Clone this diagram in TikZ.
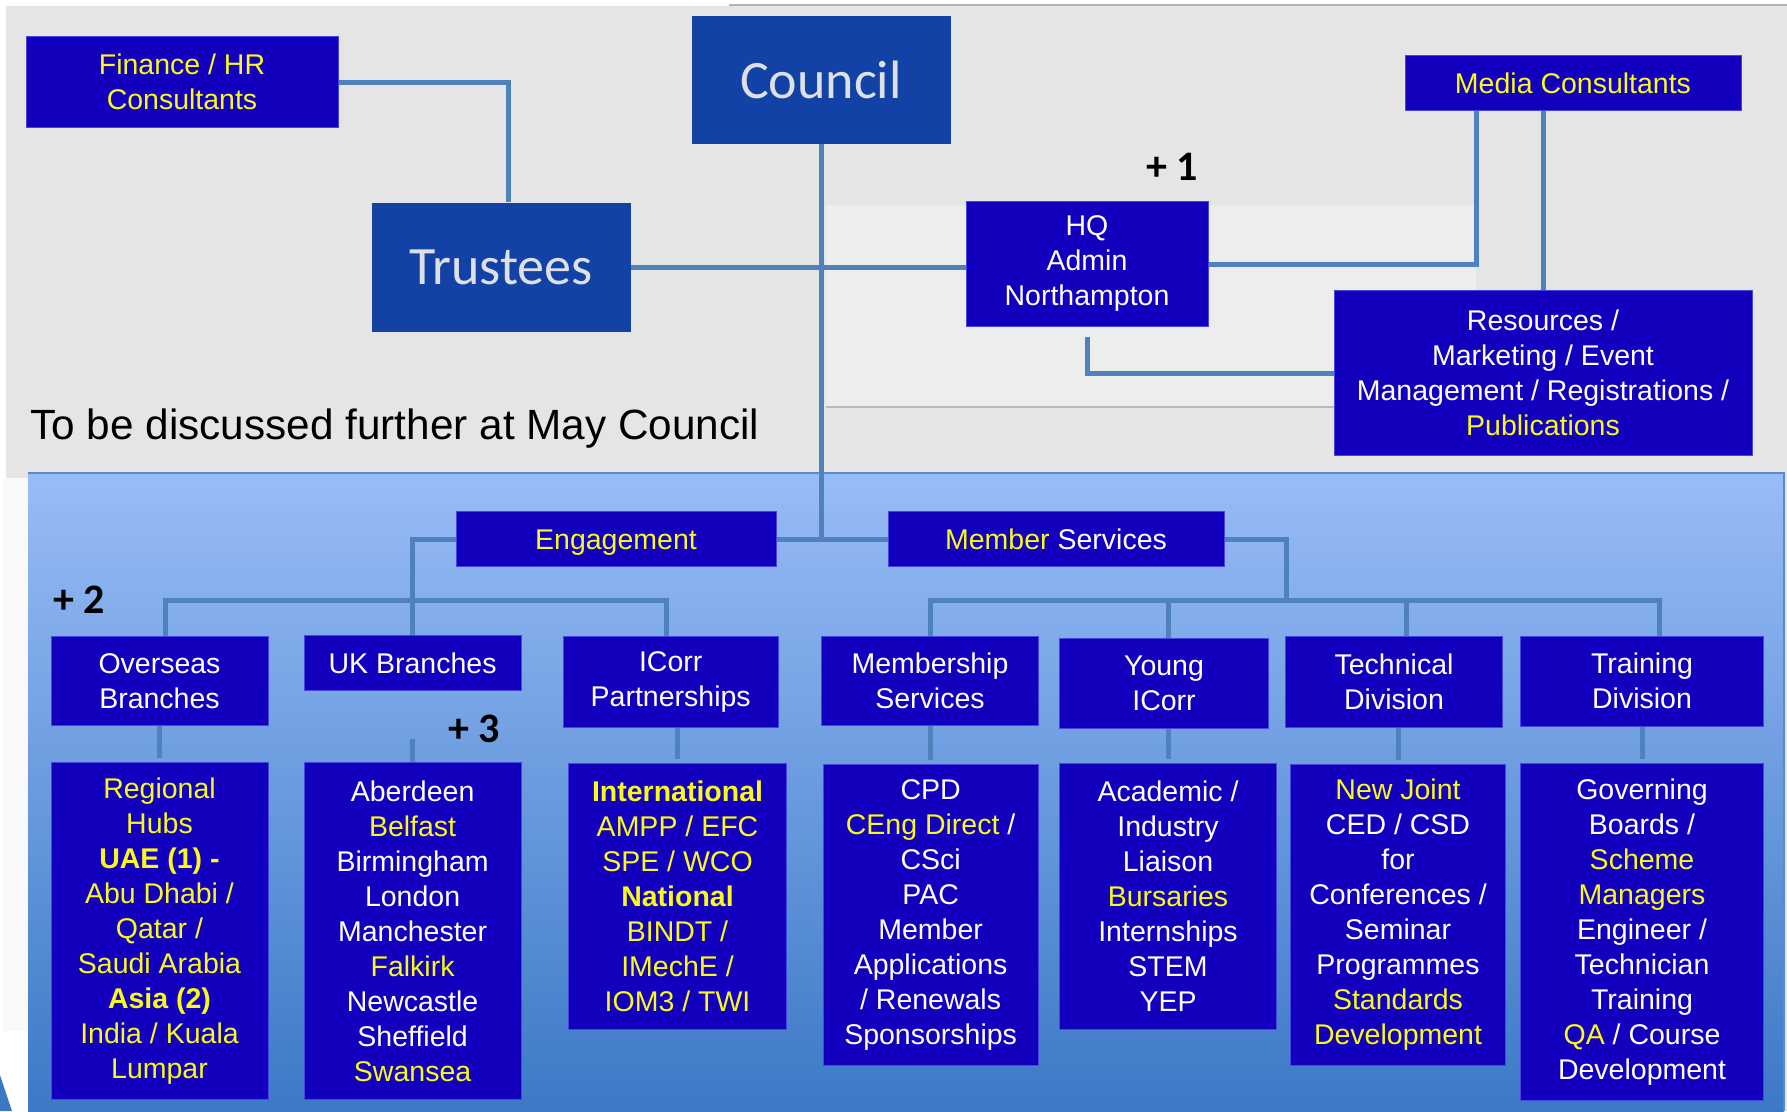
\documentclass[tikz,border=0pt]{standalone}
\usepackage{fontspec}
\setmainfont{Liberation Sans}
\newfontfamily\calfont{Carlito}
\definecolor{boxblue}{RGB}{18,0,190}
\definecolor{boxedge}{RGB}{70,70,225}
\definecolor{boardblue}{RGB}{18,66,166}
\definecolor{boardtext}{RGB}{222,224,232}
\definecolor{hilite}{RGB}{250,250,25}
\definecolor{linkblue}{RGB}{79,129,189}
\definecolor{panelgrey}{RGB}{229,229,229}
\definecolor{bandgrey}{RGB}{237,237,237}
\definecolor{paneltop}{RGB}{152,188,247}
\definecolor{panelbottom}{RGB}{60,121,197}
\definecolor{panelline}{RGB}{90,138,205}
\newcommand{\yl}[1]{\textcolor{hilite}{#1}}
\begin{document}
\begin{tikzpicture}[x=1pt, y=-1pt,
  unit/.style={fill=boxblue, draw=boxedge, line width=1pt, text=white, align=center,
    inner sep=0pt, font=\fontsize{28.5}{35}\selectfont},
  board/.style={fill=boardblue, text=boardtext, inner sep=0pt,
    font=\calfont\fontsize{54}{60}\selectfont},
  link/.style={draw=linkblue, line width=5pt},
  plus/.style={font=\calfont\bfseries\fontsize{42}{48}\selectfont}]
		% Hintergrund
		\useasboundingbox (0,0) rectangle (1787,1111);
		\fill[white] (0,0) rectangle (1787,1111);
		\fill[panelgrey] (6,6) rectangle (1787,1111);
		\fill[white] (0,0) rectangle (1787,5);
		\draw[gray!60, line width=2pt] (729,5) -- (1787,5);
		\fill[bandgrey] (826,205) rectangle (1476,407);
		\draw[gray!55, line width=2pt] (826,407) -- (1476,407);
		\fill[white!95!gray] (3,478) rectangle (28,1031);
		\fill[white] (0,1031) rectangle (28,1111);
		\fill[panelbottom] (0,1075) -- (12,1111) -- (0,1111) -- cycle;
		\shade[top color=paneltop, bottom color=panelbottom] (28,473) rectangle (1784,1111);
		\draw[panelline, line width=2pt] (28,473) -- (1784,473) -- (1784,1111);
		% Obere Ebene
		\node[unit, text=hilite, minimum width=312pt, minimum height=91pt] (fin) at (182,82) {Finance / HR\\Consultants};
		\node[board, minimum width=259pt, minimum height=128pt] (council) at (821,80) {Council};
		\node[board, minimum width=259pt, minimum height=129pt] (trust) at (501,267) {Trustees};
		\node[unit, minimum width=242pt, minimum height=125pt] (hq) at (1087,264) {HQ\\Admin\\Northampton};
		\node[unit, text=hilite, minimum width=336pt, minimum height=55pt] (media) at (1573,83) {Media Consultants};
		\node[unit, minimum width=418pt, minimum height=165pt] (res) at (1543,373) {Resources /\\Marketing / Event\\Management / Registrations /\\\yl{Publications}};
		\node[plus] (plusa) at (1172,167) {+ 1};
		\node[anchor=west, font=\fontsize{42.3}{48}\selectfont] (note) at (27,429) {To be discussed further at May Council};
		% Untere Ebene
		\node[unit, text=hilite, text height=20.5pt, text depth=0pt, minimum width=320pt, minimum height=55pt] (eng) at (616,539) {Engagement};
		\node[unit, minimum width=336pt, minimum height=55pt] (ms) at (1056,539) {\yl{Member} Services};
		\node[plus] (plusb) at (79,600) {+ 2};
		\node[plus] (plusc) at (474,729) {+ 3};
		% Bereiche
		\node[unit, minimum width=217pt, minimum height=89pt] (ovs) at (159.5,681) {Overseas\\Branches};
		\node[unit, minimum width=217pt, minimum height=55pt] (uk) at (412.6,663) {UK Branches};
		\node[unit, minimum width=215pt, minimum height=91pt] (icorr) at (670.7,682) {ICorr\\Partnerships};
		\node[unit, minimum width=217pt, minimum height=89pt] (mship) at (930,681) {Membership\\Services};
		\node[unit, minimum width=209pt, minimum height=90pt] (young) at (1164,683) {Young\\ICorr};
		\node[unit, minimum width=217pt, minimum height=91pt] (tech) at (1394,682) {Technical\\Division};
		\node[unit, minimum width=243pt, minimum height=90pt] (train) at (1642,681) {Training\\Division};
		% Details
		\node[unit, text=hilite, minimum width=217pt, minimum height=337pt] (ovsd) at (159.5,931)
		  {Regional\\Hubs\\\textbf{UAE (1) -}\\Abu Dhabi /\\Qatar /\\Saudi Arabia\\\textbf{Asia (2)}\\India / Kuala\\Lumpar};
		\node[unit, minimum width=217pt, minimum height=337pt] (ukd) at (412.6,931)
		  {Aberdeen\\\yl{Belfast}\\Birmingham\\London\\Manchester\\\yl{Falkirk}\\Newcastle\\Sheffield\\\yl{Swansea}};
		\node[unit, text=hilite, minimum width=218pt, minimum height=266pt] (icorrd) at (677.5,896)
		  {\textbf{International}\\AMPP / EFC\\SPE / WCO\\\textbf{National}\\BINDT /\\IMechE /\\IOM3 / TWI};
		\node[unit, minimum width=215pt, minimum height=301pt] (mshipd) at (930.6,915)
		  {CPD\\\yl{CEng Direct} /\\CSci\\PAC\\Member\\Applications\\/ Renewals\\Sponsorships};
		\node[unit, minimum width=217pt, minimum height=266pt] (youngd) at (1168,896)
		  {Academic /\\Industry\\Liaison\\\yl{Bursaries}\\Internships\\STEM\\YEP};
		\node[unit, minimum width=215pt, minimum height=301pt] (techd) at (1398,915)
		  {\yl{New Joint}\\CED / CSD\\for\\Conferences /\\Seminar\\Programmes\\\yl{Standards}\\\yl{Development}};
		\node[unit, minimum width=243pt, minimum height=337pt] (traind) at (1642,932)
		  {Governing\\Boards /\\\yl{Scheme}\\\yl{Managers}\\Engineer /\\Technician\\Training\\\yl{QA} / Course\\Development};
		\coordinate (msbus) at (1286,600);
		% Linien
		\draw[link] (fin.east) -| ([xshift=7pt]trust.north);
		\draw[link] (council.south) -- (council.south |- eng.east);
		\draw[link] (trust.east) -- (trust.east -| hq.west);
		\draw[link] (hq.east) -| ([xshift=-97pt]media.south);
		\draw[link] (media.south -| res.north) -- (res.north);
		\draw[link, shorten <=10pt] (hq.south) |- (res.west);
		\draw[link] (eng.east) -- (ms.west);
		\draw[link] (eng.west) -| (uk.north);
		\draw[link] ([xshift=6pt]ovs.north) -- ++(0,-36) -| ([xshift=-4pt]icorr.north);
		\draw[link] (ms.east) -| (msbus);
		\draw[link] (mship.north) -- ++(0,-36) -| ([xshift=17pt]train.north);
		\draw[link] ([xshift=4pt]young.north) -- ++(0,-36);
		\draw[link] ([xshift=12pt]tech.north) -- ++(0,-36);
		\foreach \a/\b in {ovs/ovsd, icorr/icorrd, mship/mshipd, young/youngd, tech/techd, train/traind}
		  \draw[link, shorten <=4pt] (\b.north) -- (\b.north |- \a.south);
		\draw[link] (ukd.north) -- ++(0,-23);
\end{tikzpicture}
\end{document}
